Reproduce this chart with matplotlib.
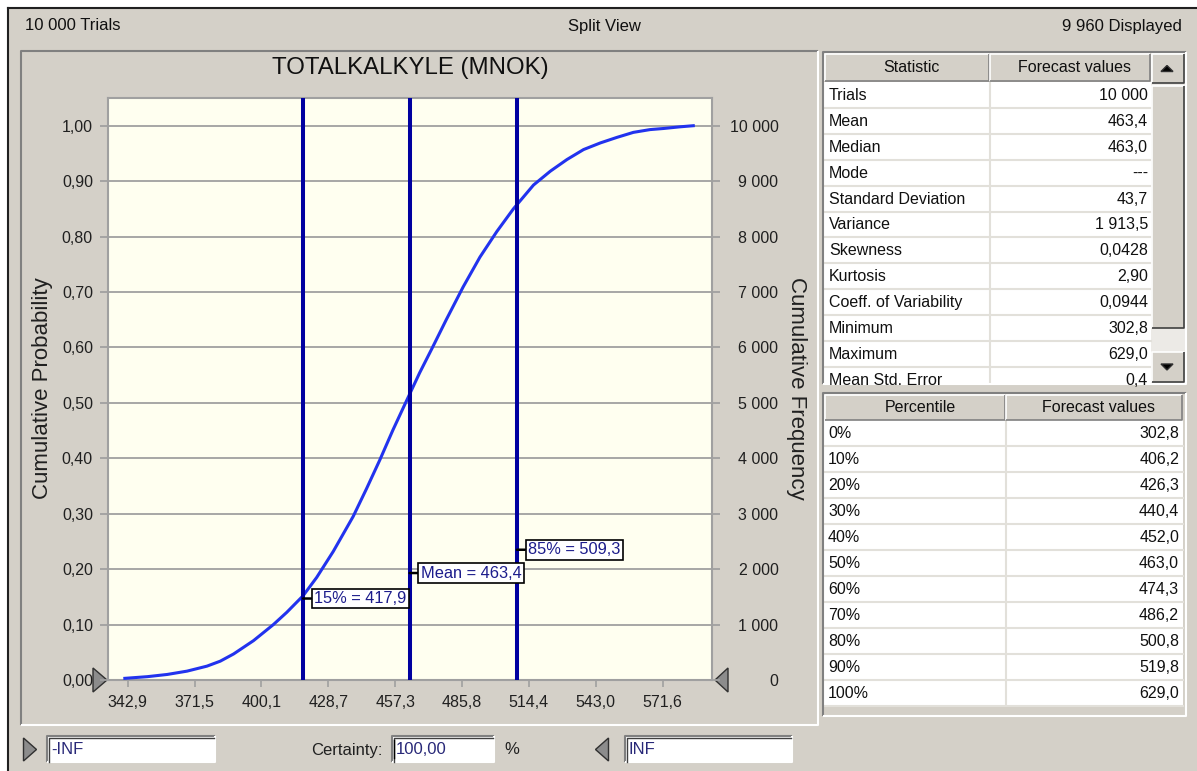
import matplotlib.pyplot as plt
from matplotlib.patches import Rectangle, Polygon
from matplotlib.ticker import FuncFormatter
from matplotlib.transforms import Bbox, TransformedBbox

plt.rcParams['font.family'] = ['Liberation Sans', 'DejaVu Sans']

W, H = 1197, 771
GRAY = '#D4D0C8'
DARK = '#808080'
GRID = '#A0A0A0'
NAVY = '#1C1C8C'

# cumulative curve: forecast value -> cumulative probability
cum_value = [341.7, 351.3, 359.8, 368.3, 376.8, 382.5, 388.2, 396.7, 405.2,
             410.9, 417.9, 423.7, 430.8, 439.3, 445.0, 450.7, 456.3, 461.7,
             467.7, 473.1, 479.1, 486.3, 493.5, 500.7, 507.8, 516.4, 523.6,
             530.7, 537.8, 545.0, 552.1, 559.1, 566.2, 572.0, 579.0, 584.7]
cum_prob = [0.003, 0.006, 0.010, 0.016, 0.025, 0.034, 0.047, 0.071, 0.100,
            0.122, 0.152, 0.185, 0.232, 0.295, 0.345, 0.397, 0.451, 0.500,
            0.554, 0.599, 0.650, 0.709, 0.763, 0.809, 0.850, 0.893, 0.918,
            0.939, 0.957, 0.969, 0.979, 0.988, 0.993, 0.995, 0.998, 1.000]

trials = 10000
displayed = 9960
certainty = 100.0
p15_value = 417.9
mean_value = 463.4
p85_value = 509.3

x_ticks = [342.9, 371.5, 400.1, 428.7, 457.3, 485.8, 514.4, 543.0, 571.6]
prob_ticks = [0.0, 0.1, 0.2, 0.3, 0.4, 0.5, 0.6, 0.7, 0.8, 0.9, 1.0]
freq_ticks = [0, 1000, 2000, 3000, 4000, 5000, 6000, 7000, 8000, 9000, 10000]

stat_names = ['Trials', 'Mean', 'Median', 'Mode', 'Standard Deviation',
              'Variance', 'Skewness', 'Kurtosis', 'Coeff. of Variability',
              'Minimum', 'Maximum', 'Mean Std. Error']
stat_values = ['10 000', '463,4', '463,0', '---', '43,7', '1 913,5', '0,0428',
               '2,90', '0,0944', '302,8', '629,0', '0,4']

pct_names = ['0%', '10%', '20%', '30%', '40%', '50%', '60%', '70%', '80%',
             '90%', '100%']
pct_values = [302.8, 406.2, 426.3, 440.4, 452.0, 463.0, 474.3, 486.2, 500.8,
              519.8, 629.0]


def comma(v, digits=1):
    return f"{v:.{digits}f}".replace('.', ',')


def spaced(v):
    return f"{v:,}".replace(',', ' ')


fig = plt.figure(figsize=(W / 100, H / 100), dpi=100)
fig.patch.set_facecolor('white')

# window chrome, drawn in pixel coordinates
bg = fig.add_axes([0, 0, 1, 1], zorder=0)
bg.set_xlim(0, W)
bg.set_ylim(H, 0)
bg.axis('off')


def rect(x0, y0, x1, y1, fc, ec='none', lw=1.0, z=1):
    bg.add_patch(Rectangle((x0, y0), x1 - x0, y1 - y0, facecolor=fc,
                           edgecolor=ec, linewidth=lw, zorder=z))


def edge(x0, y0, x1, y1, tl, br, lw=1.5, z=3):
    bg.plot([x0, x0, x1], [y1, y0, y0], color=tl, lw=lw, zorder=z,
            solid_capstyle='butt')
    bg.plot([x0, x1, x1], [y1, y1, y0], color=br, lw=lw, zorder=z,
            solid_capstyle='butt')


def tri(cx, cy, w, h, direction, fc='#8C8C8C'):
    if direction == 'right':
        pts = [(cx - w / 2, cy - h / 2), (cx + w / 2, cy), (cx - w / 2, cy + h / 2)]
    elif direction == 'left':
        pts = [(cx + w / 2, cy - h / 2), (cx - w / 2, cy), (cx + w / 2, cy + h / 2)]
    elif direction == 'up':
        pts = [(cx - w / 2, cy + h / 2), (cx + w / 2, cy + h / 2), (cx, cy - h / 2)]
    else:
        pts = [(cx - w / 2, cy - h / 2), (cx + w / 2, cy - h / 2), (cx, cy + h / 2)]
    bg.add_patch(Polygon(pts, closed=True, facecolor=fc, edgecolor='#303030',
                         linewidth=1.0, zorder=4))


rect(8, 8, W, H, GRAY, z=0)
bg.plot([8, W], [8, 8], color='#202020', lw=1.5, zorder=3)
bg.plot([8, 8], [8, H], color='#202020', lw=1.5, zorder=3)

# header line
bg.text(25, 26, f"{spaced(trials)} Trials", ha='left', va='center', fontsize=12, color='#101010')
bg.text(604, 26, 'Split View', ha='center', va='center', fontsize=12, color='#101010')
bg.text(1182, 26, f"{spaced(displayed)} Displayed", ha='right', va='center', fontsize=12, color='#101010')

# chart panel frame
edge(21, 51, 818, 725, DARK, 'white')

# chart area
ax = fig.add_axes([108 / W, 1 - 680 / H, (712 - 108) / W, (680 - 98) / H], zorder=1)
ax.set_facecolor('#FFFFF0')
ax.plot(cum_value, cum_prob, color='#2233EE', lw=2.2, zorder=3)
for v in (p15_value, mean_value, p85_value):
    ax.axvline(v, color='#0000A0', lw=2.9, zorder=4)

ax.set_xlim(334.5, 592.7)
ax.set_ylim(0, 1.05)
ax.set_xticks(x_ticks)
ax.set_yticks(prob_ticks)
ax.xaxis.set_major_formatter(FuncFormatter(lambda v, _: comma(v, 1)))
ax.yaxis.set_major_formatter(FuncFormatter(lambda v, _: comma(v, 2)))
ax.grid(axis='y', color=GRID, lw=1.3)
ax.set_axisbelow(True)
ax.tick_params(axis='x', length=5, width=1.2, color=GRID, labelcolor='#202020',
               labelsize=11.5, pad=5.5)
ax.tick_params(axis='y', length=5.8, width=1.3, color=GRID, labelcolor='#202020',
               labelsize=11.5, pad=5)
for s in ax.spines.values():
    s.set_color(GRID)
    s.set_linewidth(1.5)

ax2 = ax.twinx()
ax2.set_ylim(0, 1.05 * trials)
ax2.set_yticks(freq_ticks)
ax2.yaxis.set_major_formatter(FuncFormatter(lambda v, _: spaced(int(v))))
ax2.tick_params(axis='y', length=5.8, width=1.3, color=GRID, labelcolor='#202020',
                labelsize=11.5, pad=42)
for lbl in ax2.get_yticklabels():
    lbl.set_horizontalalignment('right')
for s in ax2.spines.values():
    s.set_visible(False)

ax.text(0.5, (680 - 68) / 582, 'TOTALKALKYLE (MNOK)', transform=ax.transAxes,
        ha='center', va='center', fontsize=17.3, color='#101010')
ax.text((42.5 - 108) / 604, 0.501, 'Cumulative Probability', transform=ax.transAxes,
        rotation=90, ha='center', va='center', fontsize=16, color='#202020')
ax.text((797 - 108) / 604, 0.501, 'Cumulative Frequency', transform=ax.transAxes,
        rotation=270, ha='center', va='center', fontsize=16, color='#202020')

# value labels on the marker lines
for name, value, y in zip(['15%', 'Mean', '85%'], [p15_value, mean_value, p85_value],
                          [0.147, 0.193, 0.235]):
    ax.annotate(f"{name} = {comma(value)}", xy=(value, y), xytext=(8, 0),
                textcoords='offset points', ha='left', va='center', fontsize=11.8,
                color=NAVY, zorder=6,
                bbox=dict(boxstyle='square,pad=0.15', fc='white', ec='black', lw=1.2),
                arrowprops=dict(arrowstyle='-', color='black', lw=1.8,
                                shrinkA=0, shrinkB=0))

# range grabbers at the ends of the x axis
tri(100, 680, 14, 24, 'right')
tri(721.5, 680, 13, 24, 'left')

# statistics table
edge(823, 52, 1186, 384, DARK, 'white')
rect(824, 53, 1151, 383, 'white', z=1)
rect(824, 53, 1151, 82, GRAY, z=2)
edge(825, 54, 989, 81, 'white', DARK, lw=1.2)
edge(990, 54, 1150, 81, 'white', DARK, lw=1.2)
bg.text(911, 67.5, 'Statistic', ha='center', va='center', fontsize=11.5, color='#101010')
bg.text(1075, 67.5, 'Forecast values', ha='center', va='center', fontsize=11.5, color='#101010')
row_h = 25.9
clip = TransformedBbox(Bbox.from_extents(824, 383, 1151, 82), bg.transData)
for i, (name, val) in enumerate(zip(stat_names, stat_values)):
    top = 82 + i * row_h
    if top + row_h < 383:
        bg.plot([824, 1151], [top + row_h, top + row_h], color='#E2E0DA', lw=1.5, zorder=2)
    t1 = bg.text(829, top + row_h / 2 + 0.5, name, ha='left', va='center', fontsize=11.5,
                 color='#101010', zorder=3)
    t2 = bg.text(1148, top + row_h / 2 + 0.5, val, ha='right', va='center', fontsize=11.5,
                 color='#101010', zorder=3)
    t1.set_clip_box(clip)
    t2.set_clip_box(clip)
bg.plot([989.5, 989.5], [82, 383], color='#E2E0DA', lw=1.5, zorder=2)

# scrollbar
rect(1151, 53, 1185, 383, '#ECEAE6', z=1)
rect(1152, 54, 1184, 83, GRAY, z=2)
edge(1152, 54, 1184, 83, 'white', '#404040', lw=1.2)
tri(1167, 68.5, 12, 6, 'up', fc='black')
rect(1152, 86, 1184, 328, GRAY, z=2)
edge(1152, 86, 1184, 328, 'white', '#404040', lw=1.2)
rect(1152, 352, 1184, 382, GRAY, z=2)
edge(1152, 352, 1184, 382, 'white', '#404040', lw=1.2)
tri(1167, 367, 12, 6, 'down', fc='black')

# percentile table
edge(823, 393, 1186, 716, DARK, 'white')
rect(824, 394, 1184, 715, GRAY, z=1)
edge(825, 395, 1005, 420, 'white', DARK, lw=1.2)
edge(1006, 395, 1182, 420, 'white', DARK, lw=1.2)
bg.text(920, 407.5, 'Percentile', ha='center', va='center', fontsize=11.5, color='#101010')
bg.text(1098, 407.5, 'Forecast values', ha='center', va='center', fontsize=11.5, color='#101010')
row_h2 = 26.0
rows_bottom = 420 + len(pct_names) * row_h2
rect(824, 420, 1183, rows_bottom, 'white', z=1)
for i, (name, val) in enumerate(zip(pct_names, pct_values)):
    top = 420 + i * row_h2
    bg.plot([824, 1183], [top + row_h2, top + row_h2], color='#E2E0DA', lw=1.5, zorder=2)
    bg.text(828, top + row_h2 / 2 + 0.5, name, ha='left', va='center', fontsize=11.5,
            color='#101010', zorder=3)
    bg.text(1179, top + row_h2 / 2 + 0.5, comma(val), ha='right', va='center',
            fontsize=11.5, color='#101010', zorder=3)
bg.plot([1005.5, 1005.5], [420, rows_bottom], color='#E2E0DA', lw=1.5, zorder=2)

# certainty controls
for x0, x1, txt in [(47, 215, '-INF'), (392, 494, comma(certainty, 2)), (625, 792, 'INF')]:
    rect(x0, 736, x1, 762, 'white', z=1)
    edge(x0, 736, x1, 762, DARK, 'white', lw=1.5)
    bg.plot([x0 + 1.5, x0 + 1.5, x1 - 1], [762, 737.5, 737.5], color='#404040', lw=1.0, zorder=3)
    bg.text(x0 + 4, 750, txt, ha='left', va='center', fontsize=12, color='#282878', zorder=3)
bg.plot([394, 394], [740, 758], color='black', lw=1.0, zorder=4)
tri(30, 749.5, 13, 23, 'right')
tri(602, 749.5, 13, 23, 'left')
bg.text(382, 750, 'Certainty:', ha='right', va='center', fontsize=12, color='#202020')
bg.text(504, 750, '%', ha='left', va='center', fontsize=12, color='#202020')

fig.savefig('out.png', dpi=100, facecolor=fig.get_facecolor())
